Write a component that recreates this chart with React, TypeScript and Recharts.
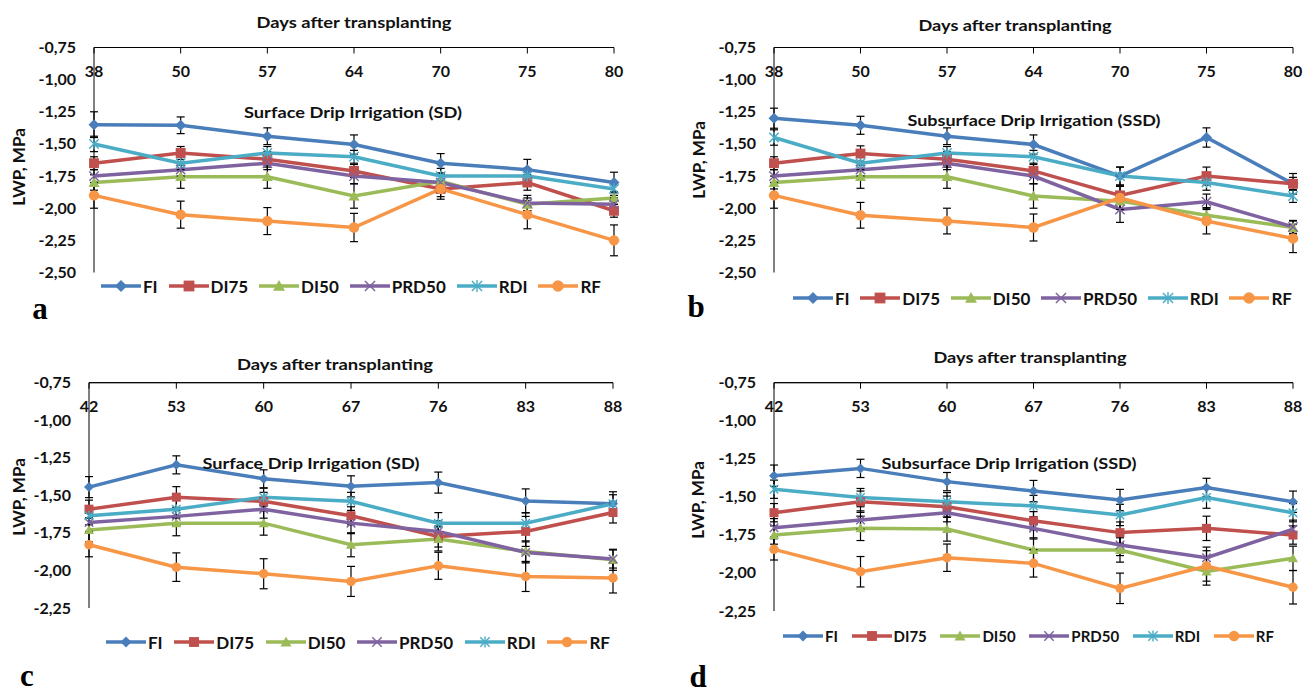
import React from "react";
import { LineChart, Line, XAxis, YAxis, ErrorBar, ReferenceLine } from "recharts";

const FONT = "Lato, 'Liberation Sans', Arial, sans-serif";

const seriesNames = ["FI", "DI75", "DI50", "PRD50", "RDI", "RF"];
const seriesColors = ["#4a7ebb", "#c0504d", "#9bbb59", "#7f63a1", "#4bacc6", "#f79646"];
const seriesShapes = ["diamond", "square", "triangle", "x", "star", "circle"];

const ticksAB = [-2.5, -2.25, -2.0, -1.75, -1.5, -1.25, -1.0, -0.75];
const ticksCD = [-2.25, -2.0, -1.75, -1.5, -1.25, -1.0, -0.75];

// panel a – surface drip, first season
const daysA = ["38", "50", "57", "64", "70", "75", "80"];
const fiA = [-1.35, -1.355, -1.44, -1.505, -1.65, -1.7, -1.8];
const di75A = [-1.65, -1.57, -1.62, -1.71, -1.85, -1.8, -2.02];
const di50A = [-1.8, -1.755, -1.755, -1.905, -1.79, -1.97, -1.92];
const prd50A = [-1.75, -1.7, -1.65, -1.75, -1.8, -1.96, -1.97];
const rdiA = [-1.5, -1.65, -1.57, -1.6, -1.75, -1.75, -1.85];
const rfA = [-1.9, -2.05, -2.1, -2.15, -1.85, -2.05, -2.25];
const fiErrA = [0.1, 0.065, 0.065, 0.075, 0.075, 0.08, 0.08];
const di75ErrA = [0.05, 0.05, 0.06, 0.05, 0.06, 0.06, 0.05];
const di50ErrA = [0.06, 0.09, 0.09, 0.095, 0.06, 0.05, 0.05];
const prd50ErrA = [0.05, 0.05, 0.05, 0.06, 0.06, 0.06, 0.05];
const rdiErrA = [0.06, 0.05, 0.05, 0.05, 0.06, 0.06, 0.05];
const rfErrA = [0.1, 0.105, 0.105, 0.11, 0.08, 0.11, 0.12];

// panel b – subsurface drip, first season
const daysB = ["38", "50", "57", "64", "70", "75", "80"];
const fiB = [-1.3, -1.355, -1.44, -1.505, -1.75, -1.45, -1.81];
const di75B = [-1.65, -1.575, -1.62, -1.71, -1.9, -1.75, -1.81];
const di50B = [-1.8, -1.755, -1.755, -1.905, -1.945, -2.055, -2.15];
const prd50B = [-1.75, -1.7, -1.65, -1.75, -2.01, -1.95, -2.145];
const rdiB = [-1.45, -1.65, -1.57, -1.6, -1.75, -1.8, -1.905];
const rfB = [-1.9, -2.055, -2.1, -2.15, -1.92, -2.1, -2.235];
const fiErrB = [0.078, 0.07, 0.065, 0.075, 0.07, 0.075, 0.08];
const di75ErrB = [0.05, 0.06, 0.06, 0.05, 0.07, 0.07, 0.05];
const di50ErrB = [0.05, 0.09, 0.09, 0.095, 0.06, 0.06, 0.05];
const prd50ErrB = [0.05, 0.05, 0.05, 0.06, 0.1, 0.06, 0.05];
const rdiErrB = [0.06, 0.05, 0.05, 0.05, 0.07, 0.06, 0.05];
const rfErrB = [0.1, 0.1, 0.1, 0.105, 0.09, 0.1, 0.11];

// panel c – surface drip, second season
const daysC = ["42", "53", "60", "67", "76", "83", "88"];
const fiC = [-1.445, -1.297, -1.39, -1.44, -1.415, -1.537, -1.556];
const di75C = [-1.592, -1.512, -1.54, -1.636, -1.774, -1.74, -1.614];
const di50C = [-1.73, -1.685, -1.685, -1.829, -1.79, -1.873, -1.929];
const prd50C = [-1.68, -1.64, -1.592, -1.685, -1.74, -1.88, -1.924];
const rdiC = [-1.636, -1.592, -1.512, -1.54, -1.685, -1.685, -1.556];
const rfC = [-1.829, -1.978, -2.022, -2.073, -1.969, -2.04, -2.05];
const fiErrC = [0.07, 0.06, 0.06, 0.07, 0.07, 0.08, 0.08];
const di75ErrC = [0.06, 0.07, 0.06, 0.06, 0.07, 0.1, 0.07];
const di50ErrC = [0.08, 0.084, 0.08, 0.08, 0.08, 0.07, 0.07];
const prd50ErrC = [0.06, 0.06, 0.06, 0.07, 0.07, 0.07, 0.06];
const rdiErrC = [0.06, 0.06, 0.06, 0.06, 0.07, 0.07, 0.06];
const rfErrC = [0.08, 0.095, 0.1, 0.1, 0.09, 0.1, 0.1];

// panel d – subsurface drip, second season
const daysD = ["42", "53", "60", "67", "76", "83", "88"];
const fiD = [-1.361, -1.313, -1.4, -1.462, -1.521, -1.438, -1.532];
const di75D = [-1.604, -1.532, -1.565, -1.657, -1.735, -1.707, -1.751];
const di50D = [-1.751, -1.707, -1.711, -1.849, -1.849, -1.99, -1.904];
const prd50D = [-1.703, -1.652, -1.604, -1.707, -1.816, -1.9, -1.713];
const rdiD = [-1.45, -1.505, -1.532, -1.56, -1.619, -1.505, -1.604];
const rfD = [-1.845, -1.992, -1.9, -1.937, -2.101, -1.954, -2.094];
const fiErrD = [0.07, 0.06, 0.06, 0.07, 0.07, 0.06, 0.07];
const di75ErrD = [0.06, 0.07, 0.07, 0.06, 0.07, 0.08, 0.06];
const di50ErrD = [0.06, 0.08, 0.08, 0.08, 0.08, 0.09, 0.08];
const prd50ErrD = [0.06, 0.06, 0.06, 0.07, 0.07, 0.07, 0.06];
const rdiErrD = [0.06, 0.06, 0.06, 0.07, 0.07, 0.07, 0.06];
const rfErrD = [0.07, 0.1, 0.09, 0.09, 0.1, 0.1, 0.11];

const buildRows = (days: string[], values: number[][], errors: number[][]) =>
  days.map((day, i) => {
    const row: Record<string, number | string> = { day };
    seriesNames.forEach((name, s) => {
      row[name] = values[s][i];
      row[name + "_e"] = errors[s][i];
    });
    return row;
  });

const fmt = (v: number) => v.toFixed(2).replace(".", ",");

function Marker({ shape, cx, cy, color, s }: { shape: string; cx: number; cy: number; color: string; s: number }) {
  switch (shape) {
    case "diamond":
      return <polygon points={`${cx},${cy - s} ${cx + s},${cy} ${cx},${cy + s} ${cx - s},${cy}`} fill={color} />;
    case "square":
      return <rect x={cx - s * 0.9} y={cy - s * 0.9} width={s * 1.8} height={s * 1.8} fill={color} />;
    case "triangle":
      return <polygon points={`${cx},${cy - s} ${cx + s},${cy + s * 0.8} ${cx - s},${cy + s * 0.8}`} fill={color} />;
    case "x":
      return (
        <g stroke={color} strokeWidth={1.4}>
          <line x1={cx - s * 0.85} y1={cy - s * 0.85} x2={cx + s * 0.85} y2={cy + s * 0.85} />
          <line x1={cx - s * 0.85} y1={cy + s * 0.85} x2={cx + s * 0.85} y2={cy - s * 0.85} />
        </g>
      );
    case "star":
      return (
        <g stroke={color} strokeWidth={1.4}>
          <line x1={cx - s * 0.85} y1={cy - s * 0.85} x2={cx + s * 0.85} y2={cy + s * 0.85} />
          <line x1={cx - s * 0.85} y1={cy + s * 0.85} x2={cx + s * 0.85} y2={cy - s * 0.85} />
          <line x1={cx} y1={cy - s} x2={cx} y2={cy + s} />
        </g>
      );
    default:
      return <circle cx={cx} cy={cy} r={s * 0.95} fill={color} />;
  }
}

type PanelProps = {
  left: number;
  top: number;
  w: number;
  h: number;
  plot: { l: number; t: number; r: number; b: number };
  domain: [number, number];
  ticks: number[];
  rows: Record<string, number | string>[];
  subtitle: string;
  title: { x: number; y: number; w: number };
  sub: { x: number; y: number; w: number };
  lwp: { x: number; y: number };
  legend: { x: number; y: number; w: number; font: number };
  letter: { text: string; x: number; y: number };
  ms: number;
};

function Panel(p: PanelProps) {
  const { plot } = p;
  const xAxisH = 30;
  const yAxisW = 60;
  return (
    <div style={{ position: "absolute", left: p.left, top: p.top, width: p.w, height: p.h }}>
      <LineChart
        width={p.w}
        height={p.h}
        data={p.rows}
        margin={{ top: plot.t - xAxisH, left: plot.l - yAxisW, right: p.w - plot.r, bottom: p.h - plot.b }}
      >
        <XAxis
          dataKey="day"
          orientation="top"
          height={xAxisH}
          interval={0}
          tickSize={-6}
          axisLine={{ stroke: "#000" }}
          tickLine={{ stroke: "#000" }}
          tick={(t: any) => (
            <text
              x={t.x}
              y={plot.t + 29.5}
              textAnchor="middle"
              fontSize={16}
              fontWeight={700}
              fontFamily={FONT}
              fill="#111"
            >
              {t.payload.value}
            </text>
          )}
        />
        <YAxis
          type="number"
          domain={p.domain}
          ticks={p.ticks}
          allowDataOverflow
          width={yAxisW}
          tickLine={false}
          axisLine={{ stroke: "#000" }}
          tick={(t: any) => (
            <text
              x={plot.l - 18}
              y={t.y}
              dy={5.5}
              textAnchor="end"
              fontSize={16}
              fontWeight={700}
              fontFamily={FONT}
              fill="#111"
            >
              {fmt(t.payload.value)}
            </text>
          )}
        />
        <ReferenceLine y={p.domain[1]} stroke="#000" strokeWidth={1} ifOverflow="visible" />
        {seriesNames.map((name, s) => (
          <Line
            key={name}
            type="linear"
            dataKey={name}
            stroke={seriesColors[s]}
            strokeWidth={3.5}
            isAnimationActive={false}
            activeDot={false}
            dot={(d: any) => (
              <g key={`${name}-${d.index}`}>
                <Marker shape={seriesShapes[s]} cx={d.cx} cy={d.cy} color={seriesColors[s]} s={p.ms} />
              </g>
            )}
          >
            <ErrorBar dataKey={name + "_e"} direction="y" width={4} stroke="#000" strokeWidth={1.2} />
          </Line>
        ))}
      </LineChart>
      <svg
        width={p.w}
        height={p.h}
        style={{ position: "absolute", left: 0, top: 0, pointerEvents: "none" }}
        fontFamily={FONT}
        fontWeight={700}
      >
        <text
          x={p.title.x}
          y={p.title.y + 5}
          textAnchor="middle"
          fontSize={15}
          fill="#111"
          textLength={p.title.w}
          lengthAdjust="spacingAndGlyphs"
        >
          Days after transplanting
        </text>
        <text
          x={p.sub.x}
          y={p.sub.y + 5.5}
          textAnchor="middle"
          fontSize={16}
          fill="#111"
          textLength={p.sub.w}
          lengthAdjust="spacingAndGlyphs"
        >
          {p.subtitle}
        </text>
        <text
          x={p.lwp.x}
          y={p.lwp.y}
          textAnchor="middle"
          fontSize={17}
          fill="#111"
          transform={`rotate(-90 ${p.lwp.x} ${p.lwp.y})`}
          dy={6}
        >
          LWP, MPa
        </text>
        <text
          x={p.letter.x}
          y={p.letter.y}
          textAnchor="middle"
          fontSize={31}
          fontFamily="'Liberation Serif', 'DejaVu Serif', serif"
          fill="#000"
        >
          {p.letter.text}
        </text>
      </svg>
      <div
        style={{
          position: "absolute",
          left: p.legend.x,
          top: p.legend.y - 11,
          width: p.legend.w,
          height: 22,
          display: "flex",
          alignItems: "center",
          justifyContent: "space-between",
          fontFamily: FONT,
          fontWeight: 700,
          fontSize: p.legend.font,
          color: "#111",
        }}
      >
        {seriesNames.map((name, s) => (
          <div key={name} style={{ display: "flex", alignItems: "center" }}>
            <svg width={40} height={18} style={{ marginRight: 2 }}>
              <line x1={0} y1={9} x2={40} y2={9} stroke={seriesColors[s]} strokeWidth={3.5} />
              <Marker shape={seriesShapes[s]} cx={20} cy={9} color={seriesColors[s]} s={p.ms + 0.5} />
            </svg>
            <span>{name}</span>
          </div>
        ))}
      </div>
    </div>
  );
}

export default function App() {
  const rowsA = buildRows(daysA, [fiA, di75A, di50A, prd50A, rdiA, rfA], [fiErrA, di75ErrA, di50ErrA, prd50ErrA, rdiErrA, rfErrA]);
  const rowsB = buildRows(daysB, [fiB, di75B, di50B, prd50B, rdiB, rfB], [fiErrB, di75ErrB, di50ErrB, prd50ErrB, rdiErrB, rfErrB]);
  const rowsC = buildRows(daysC, [fiC, di75C, di50C, prd50C, rdiC, rfC], [fiErrC, di75ErrC, di50ErrC, prd50ErrC, rdiErrC, rfErrC]);
  const rowsD = buildRows(daysD, [fiD, di75D, di50D, prd50D, rdiD, rfD], [fiErrD, di75ErrD, di50ErrD, prd50ErrD, rdiErrD, rfErrD]);

  return (
    <div style={{ position: "absolute", left: 0, top: 0, width: 1304, height: 695, background: "#fff", overflow: "hidden" }}>
      <Panel
        left={0}
        top={0}
        w={650}
        h={330}
        plot={{ l: 94, t: 47.5, r: 614, b: 272.5 }}
        domain={[-2.5, -0.75]}
        ticks={ticksAB}
        rows={rowsA}
        subtitle="Surface Drip Irrigation (SD)"
        title={{ x: 354, y: 23, w: 195 }}
        sub={{ x: 353, y: 112, w: 218 }}
        lwp={{ x: 19, y: 167 }}
        legend={{ x: 101, y: 286, w: 500, font: 17 }}
        letter={{ text: "a", x: 40, y: 319 }}
        ms={5.5}
      />
      <Panel
        left={650}
        top={0}
        w={654}
        h={330}
        plot={{ l: 124, t: 47.5, r: 643, b: 272.5 }}
        domain={[-2.5, -0.75]}
        ticks={ticksAB}
        rows={rowsB}
        subtitle="Subsurface Drip Irrigation (SSD)"
        title={{ x: 365, y: 26, w: 193 }}
        sub={{ x: 384, y: 120, w: 253 }}
        lwp={{ x: 49, y: 160 }}
        legend={{ x: 143, y: 298, w: 499, font: 17 }}
        letter={{ text: "b", x: 46, y: 317 }}
        ms={5.5}
      />
      <Panel
        left={0}
        top={330}
        w={650}
        h={365}
        plot={{ l: 89, t: 52.7, r: 613, b: 278 }}
        domain={[-2.25, -0.75]}
        ticks={ticksCD}
        rows={rowsC}
        subtitle="Surface Drip Irrigation (SD)"
        title={{ x: 335, y: 35, w: 196 }}
        sub={{ x: 311, y: 133, w: 217 }}
        lwp={{ x: 19, y: 167 }}
        legend={{ x: 106, y: 312, w: 504, font: 17 }}
        letter={{ text: "c", x: 27, y: 356 }}
        ms={5}
      />
      <Panel
        left={650}
        top={330}
        w={654}
        h={365}
        plot={{ l: 124, t: 52.7, r: 643, b: 281 }}
        domain={[-2.25, -0.75]}
        ticks={ticksCD}
        rows={rowsD}
        subtitle="Subsurface Drip Irrigation (SSD)"
        title={{ x: 380, y: 28, w: 193 }}
        sub={{ x: 359, y: 133, w: 255 }}
        lwp={{ x: 48, y: 170 }}
        legend={{ x: 133, y: 306, w: 491, font: 15 }}
        letter={{ text: "d", x: 48, y: 357 }}
        ms={5}
      />
    </div>
  );
}
